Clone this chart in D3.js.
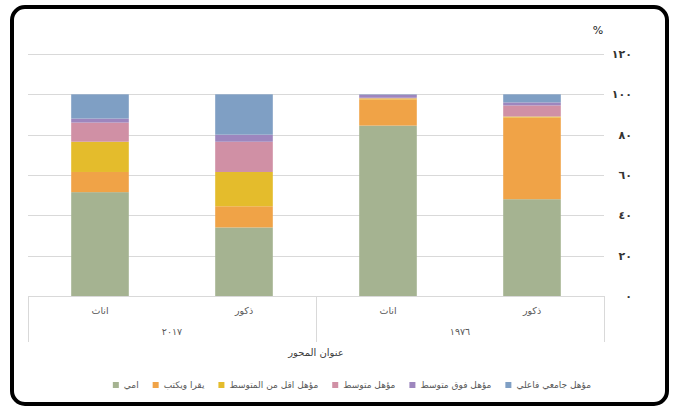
<!DOCTYPE html>
<html><head><meta charset="utf-8">
<script src="https://cdn.jsdelivr.net/npm/d3@7"></script>
<style>
html,body{margin:0;padding:0;background:#fff;}
svg{display:block;}
text{font-family:"DejaVu Sans",sans-serif;}
</style></head>
<body>
<svg id="chart" width="674" height="408"></svg>
<script>
const categories = ["اناث","ذكور","اناث","ذكور"];
const groups = ["٢٠١٧","١٩٧٦"];
const seriesNames = ["امي","يقرا ويكتب","مؤهل اقل من المتوسط","مؤهل متوسط","مؤهل فوق متوسط","مؤهل جامعي فاعلي"];
const illiterate   = [51.5, 34, 84.5, 48];
const readWrite    = [10, 10.5, 13, 40.5];
const belowMid     = [15, 17, 0.5, 0.5];
const midQual      = [9.5, 15, 0.3, 5.5];
const aboveMid     = [2, 3.5, 1.5, 1.5];
const university   = [12, 20, 0.2, 4];
const seriesValues = [illiterate, readWrite, belowMid, midQual, aboveMid, university];
const colors = ["#A5B391","#F0A347","#E4BC2C","#D090A5","#9D86BE","#7F9FC4"];
const tickValues = [0,20,40,60,80,100,120];
const tickLabels = ["٠","٢٠","٤٠","٦٠","٨٠","١٠٠","١٢٠"];
const axisTitle = "عنوان المحور";

(function(){
const svg = d3.select("#chart");
svg.append("rect").attr("x",12).attr("y",7).attr("width",655).attr("height",397)
  .attr("rx",13).attr("fill","#fff").attr("stroke","#000").attr("stroke-width",4);

const pL = 28, pR = 604, pT = 54, pB = 296;
const y = d3.scaleLinear().domain([0,120]).range([pB, pT]);
const x = d3.scaleBand().domain(d3.range(categories.length)).range([pL, pR])
  .paddingInner(0.6).paddingOuter(0.3);

svg.append("g").selectAll("line").data(tickValues.filter(v=>v>0)).join("line")
  .attr("x1",pL).attr("x2",pR).attr("y1",d=>Math.round(y(d))+0.5).attr("y2",d=>Math.round(y(d))+0.5)
  .attr("stroke","#d9d9d9").attr("stroke-width",1);

const yAxis = d3.axisRight(y).tickValues(tickValues).tickSize(0)
  .tickFormat((d,i)=>tickLabels[i]);
const gy = svg.append("g").attr("transform","translate(632,0)").call(yAxis);
gy.select(".domain").remove();
gy.selectAll("text").attr("x",0).attr("text-anchor","end")
  .attr("font-size",11).attr("font-weight","bold").attr("fill","#333")
  .attr("font-family","DejaVu Sans, sans-serif");
svg.append("text").attr("x",598).attr("y",34).attr("text-anchor","middle")
  .attr("font-size",11).attr("fill","#222").text("%");

const rows = categories.map((c,i)=>{ const o={i}; seriesNames.forEach((s,k)=>o[s]=seriesValues[k][i]); return o;});
const stack = d3.stack().keys(seriesNames)(rows);
svg.append("g").selectAll("g").data(stack).join("g")
  .attr("fill",(d,k)=>colors[k])
  .selectAll("rect").data(d=>d).join("rect")
  .attr("x",d=>x(d.data.i)).attr("width",x.bandwidth())
  .attr("y",d=>y(d[1])).attr("height",d=>y(d[0])-y(d[1]));

svg.append("line").attr("x1",pL).attr("x2",pR).attr("y1",pB+0.5).attr("y2",pB+0.5)
  .attr("stroke","#d9d9d9");
const seps = [pL, (pL+pR)/2, pR];
svg.append("g").selectAll("line").data(seps).join("line")
  .attr("x1",d=>Math.round(d)+0.5).attr("x2",d=>Math.round(d)+0.5)
  .attr("y1",pB).attr("y2",342).attr("stroke","#d9d9d9");

svg.append("g").selectAll("text").data(categories).join("text")
  .attr("x",(d,i)=>x(i)+x.bandwidth()/2).attr("y",314)
  .attr("text-anchor","middle").attr("font-size",9.5).attr("fill","#595959").text(d=>d);
const half = (pR-pL)/2;
svg.append("g").selectAll("text").data(groups).join("text")
  .attr("x",(d,i)=>pL + half*i + half/2).attr("y",335)
  .attr("text-anchor","middle").attr("font-size",9.5).attr("fill","#595959").text(d=>d);
svg.append("text").attr("x",(pL+pR)/2).attr("y",356).attr("text-anchor","middle")
  .attr("font-size",10).attr("fill","#404040").text(axisTitle);

const lg = svg.append("g");
let cur = 591;
for (let k = seriesNames.length-1; k >= 0; k--) {
  const t = lg.append("text").attr("x",cur).attr("y",388).attr("text-anchor","end")
    .attr("font-size",9).attr("fill","#595959").text(seriesNames[k]);
  const w = t.node().getComputedTextLength();
  const mx = cur - w - 5 - 6;
  lg.append("rect").attr("x",mx).attr("y",382).attr("width",6).attr("height",6).attr("fill",colors[k]);
  cur = mx - 14;
}
})();
</script>
</body></html>
